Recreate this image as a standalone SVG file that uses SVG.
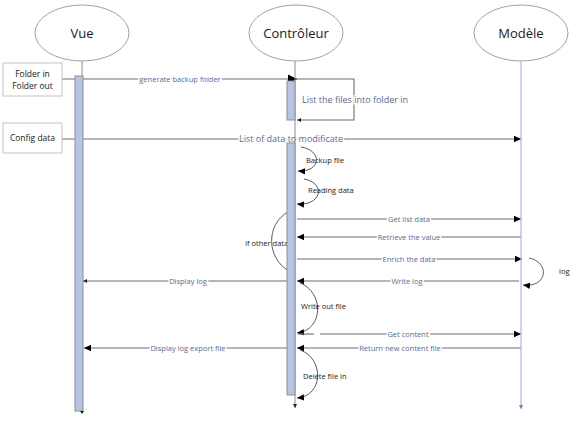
<svg xmlns="http://www.w3.org/2000/svg" width="584" height="427" viewBox="0 0 584 427">
<defs>
<marker id="ah" markerWidth="8" markerHeight="8" refX="7" refY="4" orient="auto" markerUnits="userSpaceOnUse"><path d="M0,0.8 L7,4 L0,7.2 Z" fill="#000"/></marker>
<marker id="ahl" markerWidth="10" markerHeight="10" refX="9" refY="5" orient="auto" markerUnits="userSpaceOnUse"><path d="M0,0.5 L9,5 L0,9.5 Z" fill="#000"/></marker>
<marker id="ahs" markerWidth="5" markerHeight="5" refX="4" refY="2.5" orient="auto" markerUnits="userSpaceOnUse"><path d="M0,0.5 L4,2.5 L0,4.5 Z" fill="#222"/></marker>
<marker id="ahb" markerWidth="5" markerHeight="5" refX="4" refY="2.5" orient="auto" markerUnits="userSpaceOnUse"><path d="M0,0.5 L4,2.5 L0,4.5 Z" fill="#6a7bb8"/></marker>
</defs>
<style>
.head{fill:#fff;stroke:#8c8c8c;stroke-width:0.8}
.title{font-family:"Open Sans","Noto Sans",sans-serif;font-size:13px;fill:#1a1a1a;text-anchor:middle}
.bar{fill:#b8c4e6;stroke:#8d8d8d;stroke-width:1}
.box{fill:#fff;stroke:#c4c4c4;stroke-width:1}
.bt{font-family:"Open Sans","Noto Sans",sans-serif;font-size:8.5px;fill:#1a1a1a;text-anchor:middle}
.msg{fill:none;stroke:#6e6e6e;stroke-width:1.1}
.arc{fill:none;stroke:#333;stroke-width:0.8}
.lbl{font-family:"Open Sans","Noto Sans",sans-serif;font-size:7.5px;fill:#5a68a4;text-anchor:middle;stroke:#fff;stroke-width:3;paint-order:stroke}
.sl{font-family:"Open Sans","Noto Sans",sans-serif;font-size:7.5px;fill:#1a1a1a}
</style>
<rect width="584" height="427" fill="#fff"/>

<g id="connectors">
  <line class="msg" x1="62" y1="79" x2="297" y2="79" marker-end="url(#ahl)"/>
  <text class="lbl" x="180" y="81.5">generate backup folder</text>
  <path class="msg" d="M296,79 H354 V120 H297" marker-end="url(#ahs)"/>
  <text class="lbl" x="355" y="103" style="font-size:9px" stroke-width="0">List the files into folder in</text>
  <line class="msg" x1="62" y1="139" x2="521" y2="139" marker-end="url(#ah)"/>
  <text class="lbl" x="291" y="142" style="font-size:9px">List of data to modificate</text>
  <path class="arc" d="M301,147 C322,150 322,172 298,171" marker-end="url(#ah)"/>
  <path class="arc" d="M304,179 C326,183 322,206 297,204" marker-end="url(#ah)"/>
  <path class="arc" d="M288,212 C266,224 266,258 289,271"/>
  <line class="msg" x1="297" y1="219" x2="521" y2="219" stroke="#9a9a9a" stroke-width="2" marker-end="url(#ah)"/>
  <text class="lbl" x="409" y="221.5">Get list data</text>
  <line class="msg" x1="521" y1="237" x2="297" y2="237" marker-end="url(#ah)"/>
  <text class="lbl" x="409" y="239.5">Retrieve the value</text>
  <line class="msg" x1="297" y1="259" x2="522" y2="259" marker-end="url(#ah)"/>
  <text class="lbl" x="409" y="261.5">Enrich the data</text>
  <path class="arc" d="M529,258 C550,262 548,288 523,285" marker-end="url(#ah)"/>
  <line class="msg" x1="519" y1="281" x2="297" y2="281" marker-end="url(#ah)"/>
  <text class="lbl" x="407" y="283.5">Write log</text>
  <line class="msg" x1="287" y1="281" x2="83" y2="281" marker-end="url(#ahs)"/>
  <text class="lbl" x="188" y="283.5">Display log</text>
  <path class="arc" d="M300,283 C324,292 324,330 297,333" marker-end="url(#ah)"/>
  <line class="msg" x1="298" y1="334" x2="314" y2="334"/>
  <line class="msg" x1="320" y1="334" x2="521" y2="334" marker-end="url(#ah)"/>
  <text class="lbl" x="408" y="336.5">Get content</text>
  <line class="msg" x1="521" y1="348" x2="297" y2="348" marker-end="url(#ah)"/>
  <text class="lbl" x="400" y="350.5">Return new content file</text>
  <line class="msg" x1="287" y1="348" x2="84" y2="348" marker-end="url(#ah)"/>
  <text class="lbl" x="188" y="350.5">Display log export file</text>
  <path class="arc" d="M300,350 C324,358 324,396 297,398" marker-end="url(#ah)"/>
</g>

<g id="inputs">
  <rect class="box" x="3" y="63" width="59" height="33"/>
  <text class="bt" x="32.5" y="77">Folder in</text>
  <text class="bt" x="32.5" y="89">Folder out</text>
  <rect class="box" x="3" y="123" width="59" height="30"/>
  <text class="bt" x="32.5" y="141">Config data</text>
</g>

<g id="vue">
  <ellipse class="head" cx="82" cy="33" rx="47" ry="28"/>
  <text class="title" x="82" y="38">Vue</text>
  <line x1="82" y1="61" x2="82" y2="413" stroke="#8d8d8d" stroke-width="1"/>
  <rect class="bar" x="75" y="76" width="8" height="335"/>
  <path d="M80,411 L82,414 L84,411 Z" fill="#222"/>
</g>

<g id="controleur">
  <ellipse class="head" cx="296" cy="33" rx="47" ry="28"/>
  <text class="title" x="296" y="38">Contrôleur</text>
  <line x1="295" y1="61" x2="295" y2="408" stroke="#8d8d8d" stroke-width="1" marker-end="url(#ahs)"/>
  <rect class="bar" x="287" y="81" width="8" height="39"/>
  <text class="sl" x="245" y="246">If other data</text>
  <rect class="bar" x="287" y="143" width="8" height="252"/>
  <text class="sl" x="306" y="163">Backup file</text>
  <text class="sl" x="308" y="193">Reading data</text>
  <text class="sl" x="301" y="309">Write out file</text>
  <text class="sl" x="303" y="379">Delete file in</text>
</g>

<g id="modele">
  <ellipse class="head" cx="521" cy="33" rx="47" ry="28"/>
  <text class="title" x="521" y="38">Modèle</text>
  <line x1="521" y1="61" x2="521" y2="409" stroke="#a9b8e0" stroke-width="1.2" marker-end="url(#ahb)"/>
  <text class="sl" x="559" y="274">log</text>
</g>
</svg>
